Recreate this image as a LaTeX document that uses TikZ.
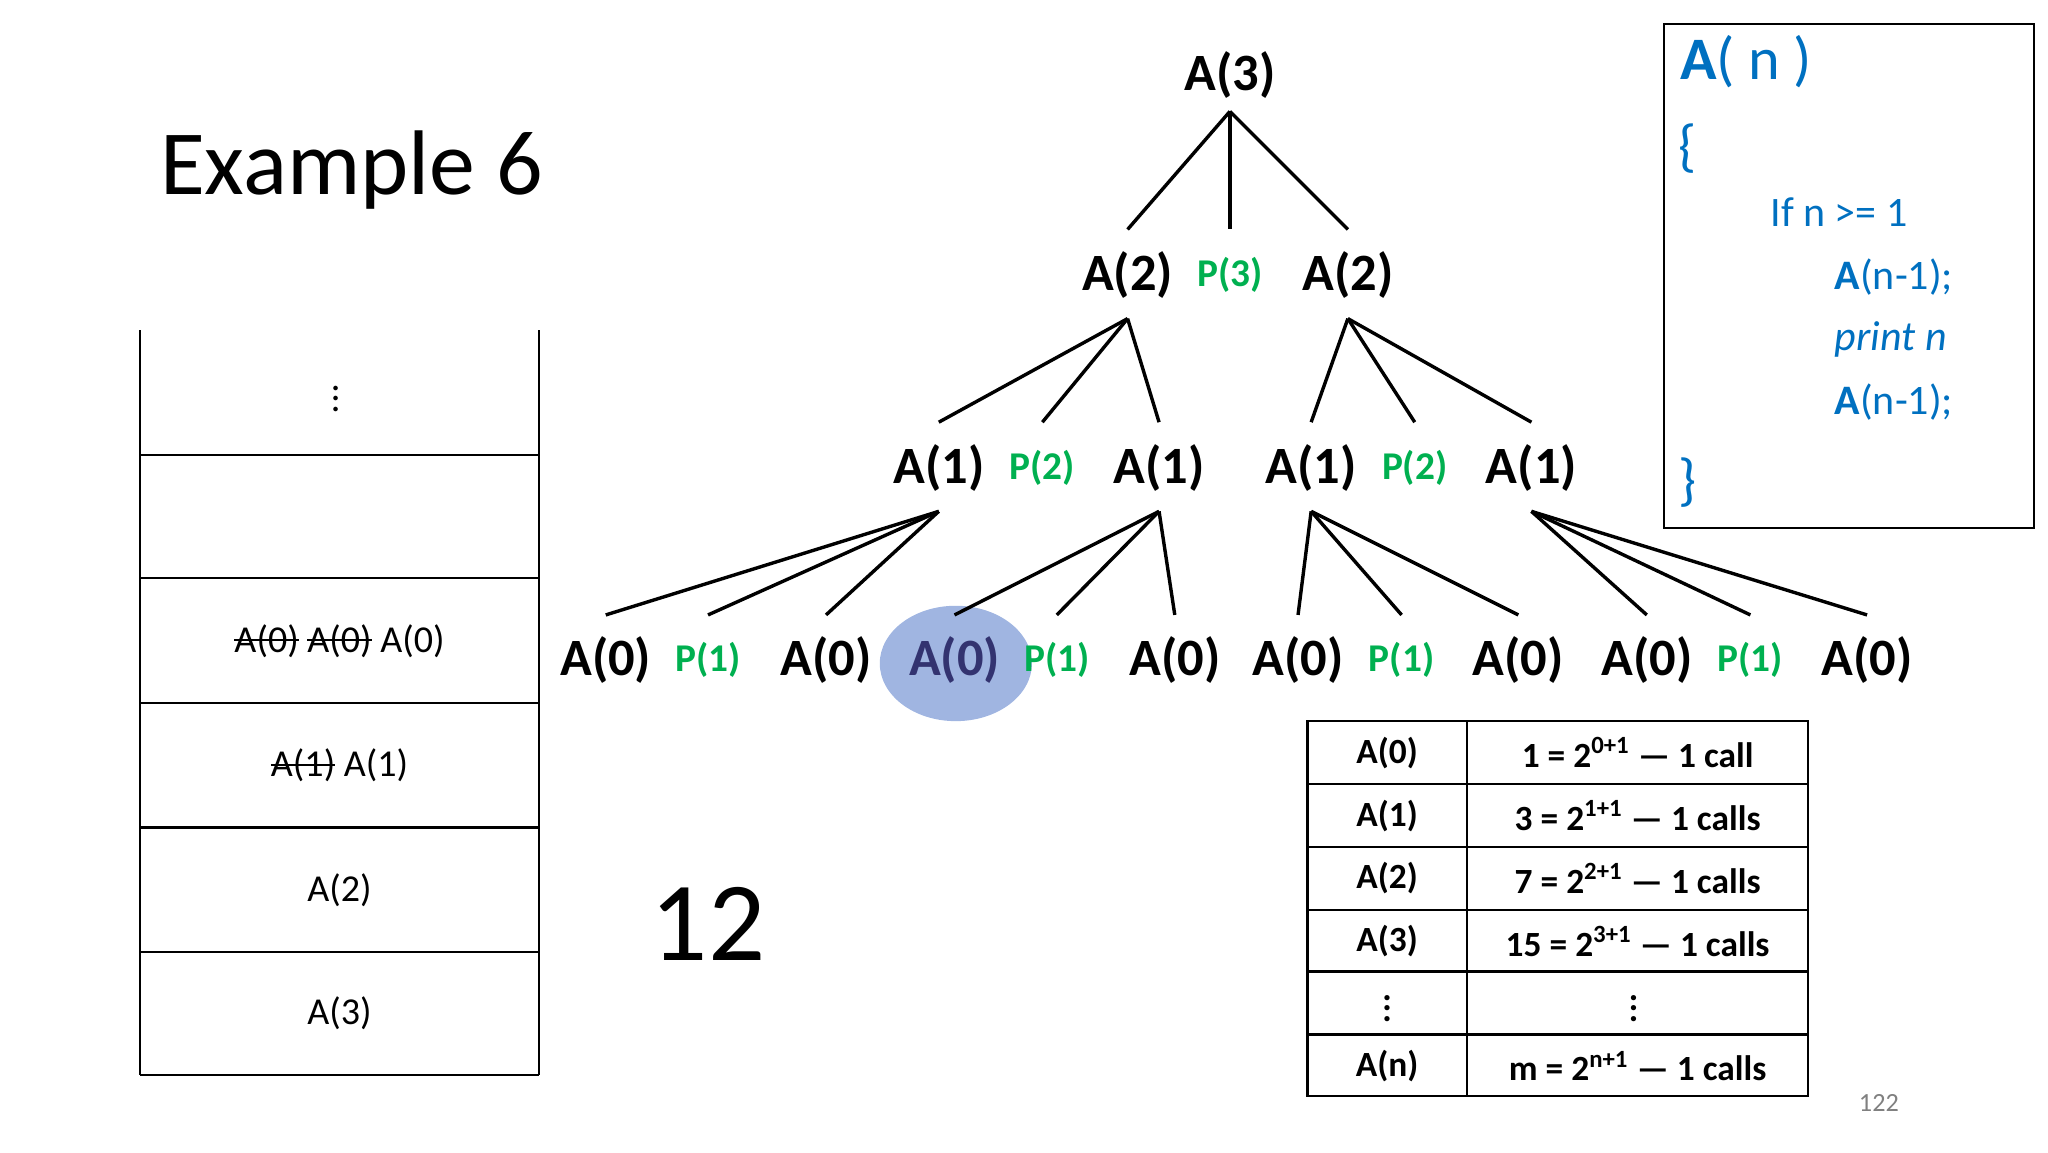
\documentclass[tikz,border=0pt]{standalone}
\usepackage{fontspec}
\setmainfont{Carlito}
\usetikzlibrary{calc}
\definecolor{pgreen}{HTML}{00B050}
\definecolor{cblue}{HTML}{0070C0}
\definecolor{hl}{HTML}{8FA8DC}
\newcommand\strk[1]{\setbox0\hbox{#1}\rlap{\rule[0.3em]{\wd0}{0.7pt}}\box0}
\tikzset{
 an/.style={font=\fontsize{20}{22}\selectfont\bfseries, inner sep=1pt},
 pn/.style={font=\fontsize{15}{17}\selectfont\bfseries, text=pgreen, inner sep=1pt},
 br/.style={line width=1.3pt},
 st/.style={font=\fontsize{14.5}{16}\selectfont},
 tb/.style={font=\fontsize{13.5}{15}\selectfont\bfseries},
 cd/.style={font=\fontsize{16}{18}\selectfont, text=cblue, anchor=west, inner sep=0pt}
}
\begin{document}
\begin{tikzpicture}[x=0.5pt,y=-0.5pt]
\useasboundingbox (0,0) rectangle (1562,879);
% title
\node[font=\fontsize{35}{38}\selectfont] (title) at (268,130) {Example 6};
\node[font=\fontsize{43}{46}\selectfont] (cnt) at (540,705) {12};
% tree
\node[an] (r) at (938,57) {A(3)};
\node[an] (l2a) at (860,210) {A(2)};
\node[pn] (p3) at (938,210) {P(3)};
\node[an] (l2b) at (1028,210) {A(2)};
\foreach \n/\x in {l3a/716,l3b/884,l3c/1000,l3d/1168} \node[an] (\n) at (\x,357) {A(1)};
\node[pn] (p2a) at (795,357) {P(2)};
\node[pn] (p2b) at (1079,357) {P(2)};
\fill[hl,opacity=0.85] (729,506) ellipse [x radius=58, y radius=44];
\foreach \n/\x in {a1/462,a2/630,a4/896,a5/990,a6/1158,a7/1256,a8/1424} \node[an] (\n) at (\x,503) {A(0)};
\node[an,text=black!70!blue!80] (a3) at (728,503) {A(0)};
\foreach \n/\x in {q1/540,q2/806,q3/1069,q4/1335} \node[pn] (\n) at (\x,503) {P(1)};
% branches
\coordinate (c1) at (938,85);
\foreach \t in {l2a,p3,l2b} \draw[br] (c1) -- ($(\t.center)+(0,-35)$);
\coordinate (c2) at (860,243);
\foreach \t in {l3a,p2a,l3b} \draw[br] (c2) -- ($(\t.center)+(0,-35)$);
\coordinate (c3) at (1028,243);
\foreach \t in {l3c,p2b,l3d} \draw[br] (c3) -- ($(\t.center)+(0,-35)$);
\coordinate (c4) at (716,390);
\foreach \t in {a1,q1,a2} \draw[br] (c4) -- ($(\t.center)+(0,-34)$);
\coordinate (c5) at (884,390);
\foreach \t in {a3,q2,a4} \draw[br] (c5) -- ($(\t.center)+(0,-34)$);
\coordinate (c6) at (1000,390);
\foreach \t in {a5,q3,a6} \draw[br] (c6) -- ($(\t.center)+(0,-34)$);
\coordinate (c7) at (1168,390);
\foreach \t in {a7,q4,a8} \draw[br] (c7) -- ($(\t.center)+(0,-34)$);
% code box
\draw[line width=0.8pt] (1269,18) rectangle (1551,403);
\node[cd,font=\fontsize{23}{25}\selectfont] (c0) at (1281,47) {\textbf{A}( n )};
\node[cd,font=\fontsize{22}{24}\selectfont] (cb1) at (1280,113) {\{};
\node[cd] (cif) at (1350,162) {If n >= 1};
\node[cd] (cr1) at (1399,211) {\textbf{A}(n-1);};
\node[cd] (cpr) at (1399,259) {\itshape print n};
\node[cd] (cr2) at (1399,307) {\textbf{A}(n-1);};
\node[cd,font=\fontsize{22}{24}\selectfont] (cb2) at (1280,368) {\}};
% stack
\draw[line width=0.9pt] (107,252) -- (107,820) (411,252) -- (411,820);
\foreach \y in {347,441,536,631,726,820} \draw[line width=0.9pt] (107,\y) -- (411,\y);
\node[st] (s1) at (256,298) {$\vdots$};
\node[st] (s3) at (259,489) {\strk{A(0)}\ \strk{A(0)}\ A(0)};
\node[st] (s4) at (259,584) {\strk{A(1)}\ A(1)};
\node[st] (s5) at (259,679) {A(2)};
\node[st] (s6) at (259,773) {A(3)};
% table
\draw[line width=1pt] (997,550) rectangle (1379,836);
\draw[line width=1pt] (1119,550) -- (1119,836);
\foreach \y in {598,646,694,741,789} \draw[line width=1pt] (997,\y) -- (1379,\y);
\node[tb] (t1) at (1058,574) {A(0)};
\node[tb] (u1) at (1249,574) {1 = 2\textsuperscript{0+1} — 1 call};
\node[tb] (t2) at (1058,622) {A(1)};
\node[tb] (u2) at (1249,622) {3 = 2\textsuperscript{1+1} — 1 calls};
\node[tb] (t3) at (1058,670) {A(2)};
\node[tb] (u3) at (1249,670) {7 = 2\textsuperscript{2+1} — 1 calls};
\node[tb] (t4) at (1058,718) {A(3)};
\node[tb] (u4) at (1249,718) {15 = 2\textsuperscript{3+1} — 1 calls};
\node[tb,inner sep=0pt] (t5) at (1058,763) {$\vdots$};
\node[tb,inner sep=0pt] (u5) at (1246,763) {$\vdots$};
\node[tb] (t6) at (1058,813) {A(n)};
\node[tb] (u6) at (1249,813) {m = 2\textsuperscript{n+1} — 1 calls};
\node[font=\fontsize{10}{12}\selectfont, text=black!50] (pg) at (1433,841) {122};
\end{tikzpicture}
\end{document}
